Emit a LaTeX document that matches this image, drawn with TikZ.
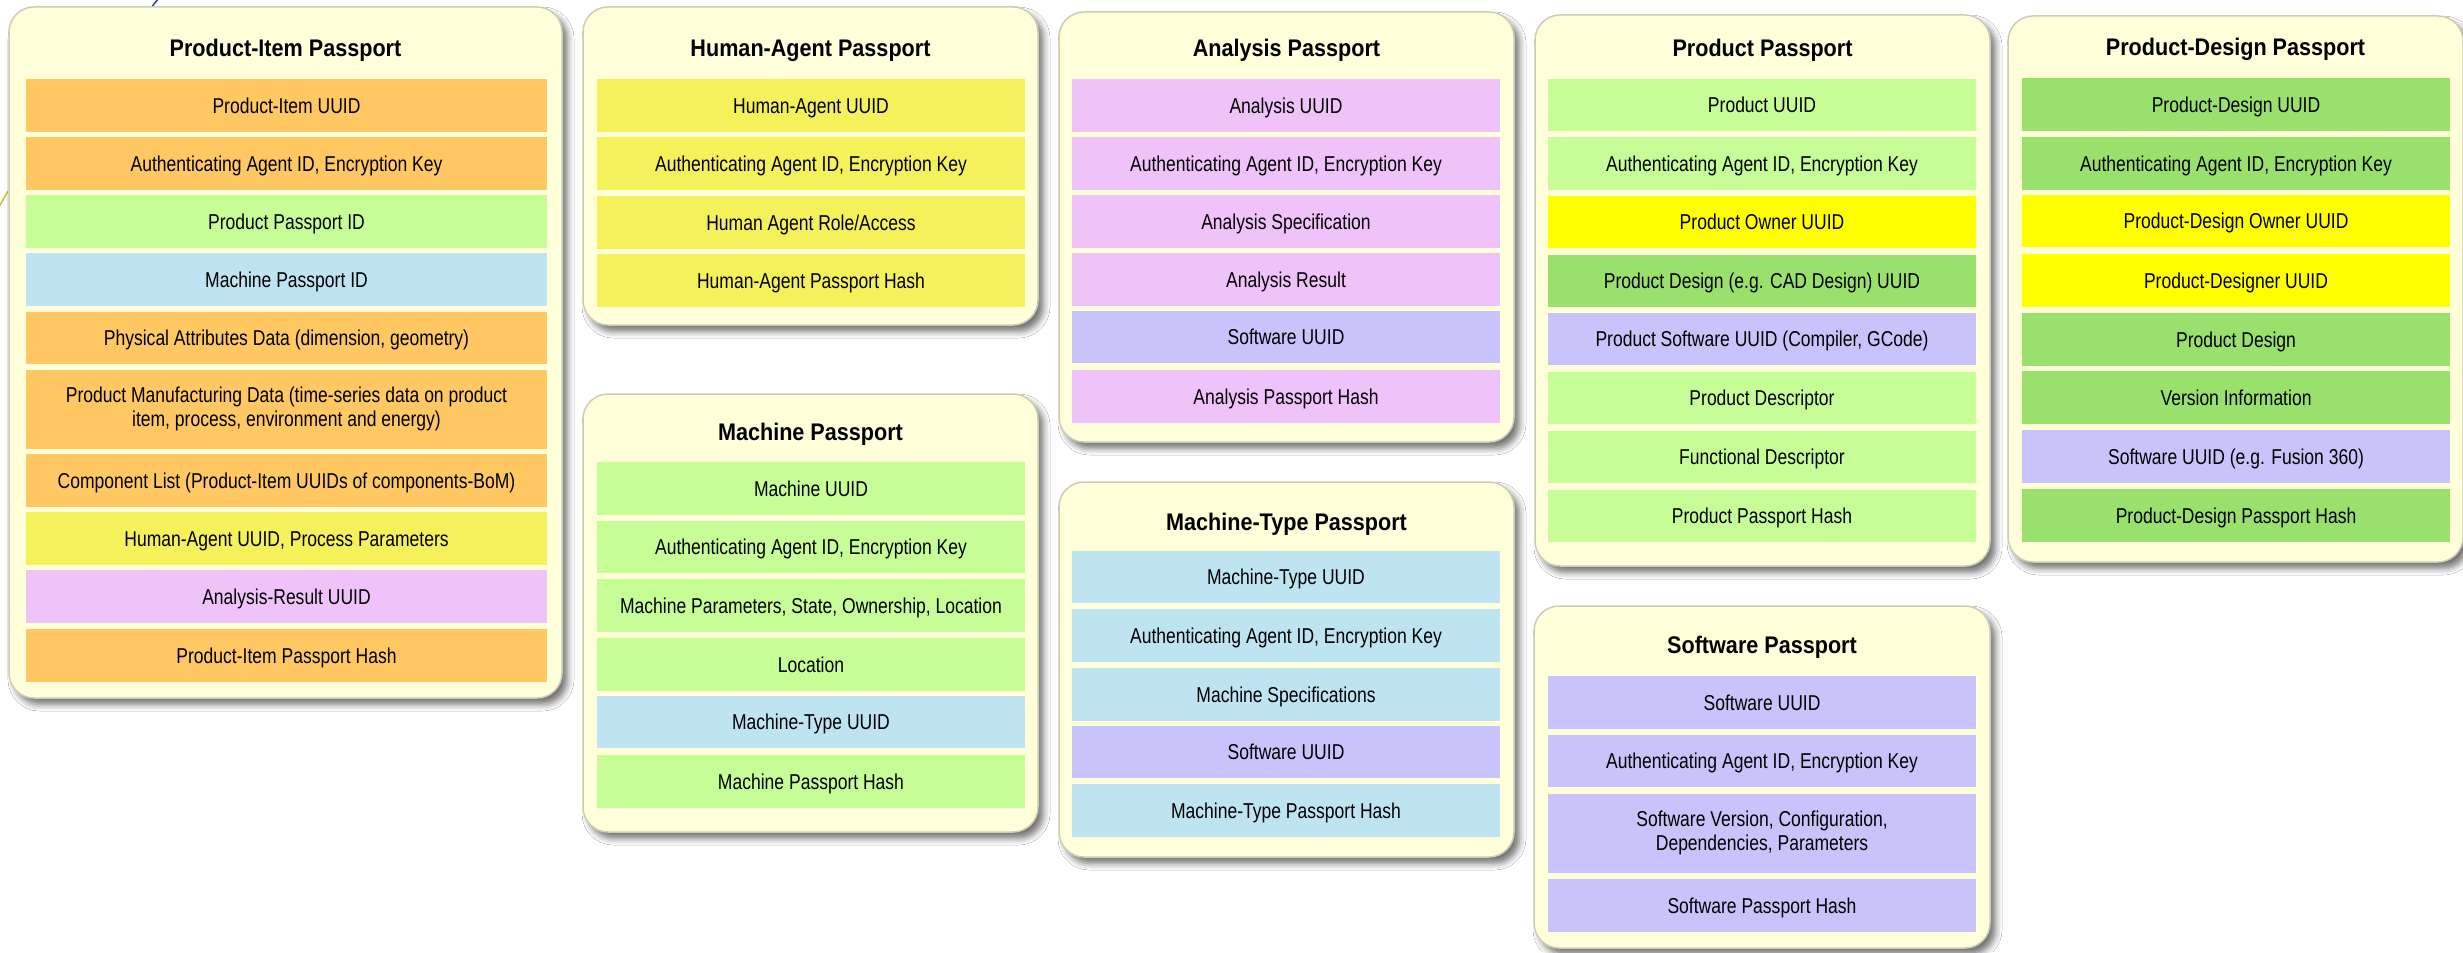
\documentclass[tikz,border=0pt]{standalone}
\usepackage{fontspec}
\setmainfont{Liberation Sans}
\usepackage{graphicx}
\usetikzlibrary{shadows.blur}
\definecolor{cardbg}{RGB}{255,255,217}
\definecolor{cardedge}{RGB}{205,205,180}
\definecolor{corange}{RGB}{255,200,98}
\definecolor{clgreen}{RGB}{199,253,150}
\definecolor{clblue}{RGB}{190,228,242}
\definecolor{chyellow}{RGB}{245,241,90}
\definecolor{cpurple}{RGB}{239,195,250}
\definecolor{clav}{RGB}{200,195,250}
\definecolor{cdgreen}{RGB}{153,224,109}
\definecolor{cbyellow}{RGB}{255,255,0}
\definecolor{strayblue}{RGB}{40,70,130}
\definecolor{strayolive}{RGB}{200,190,60}
\newcommand\nar[1]{\scalebox{0.815}[1]{#1}}
\newcommand\ttl[1]{\scalebox{0.9}[1]{#1}}
\newcommand\rowfont{\fontsize{8.6pt}{9.5pt}\selectfont}
\newcommand\ttlfont{\fontsize{9.6pt}{11pt}\selectfont\bfseries}
\tikzset{
  card/.style={rounded corners=10pt, fill=cardbg, draw=cardedge, line width=0.6pt,
    inner sep=0pt,
    blur shadow={shadow xshift=2.2pt, shadow yshift=-2.6pt, shadow blur radius=2.6pt, shadow opacity=55}},
  ttlbox/.style={inner sep=0pt, font=\ttlfont},
  rowbase/.style={inner sep=0pt, draw=none, font=\rowfont, align=center},
  rowbox/.style={rowbase, text height=6.2pt, text depth=0pt},
  stray/.style={line width=0.6pt}
}
\newcommand\pcard[7]{%
  \pgfmathsetmacro\cw{(#4-#2)*0.4}\pgfmathsetmacro\ch{(#5-#3)*0.4}%
  \node[card, minimum width=\cw pt, minimum height=\ch pt] (#1) at ({(#2+#4)/2},{(#3+#5)/2}) {};
  \node[ttlbox, anchor=base] (#1-t) at ({(#2+#4)/2},{#6+8.7}) {\ttl{#7}};}
\newcommand\prow[7]{%
  \pgfmathsetmacro\rw{(#4-#2)*0.4}\pgfmathsetmacro\rh{(#5-#3)*0.4}%
  \node[rowbox, fill=#6, minimum width=\rw pt, minimum height=\rh pt] (#1) at ({(#2+#4)/2},{(#3+#5)/2}) {\nar{#7}};}
\newcommand\prowtwo[8]{%
  \pgfmathsetmacro\rw{(#4-#2)*0.4}\pgfmathsetmacro\rh{(#5-#3)*0.4}%
  \node[rowbase, fill=#6, minimum width=\rw pt, minimum height=\rh pt] (#1) at ({(#2+#4)/2},{(#3+#5)/2}) {\nar{\begin{tabular}{@{}c@{}}#7\\#8\end{tabular}}};}
\begin{document}
\begin{tikzpicture}[x=0.4pt, y=-0.4pt]
\fill[white] (0,0) rectangle (2463,952);
\useasboundingbox (0,0) rectangle (2463,952);

% stray fragments
\coordinate (sa1) at (151,8); \coordinate (sa2) at (158,-1);
\coordinate (sb1) at (-1,207); \coordinate (sb2) at (8,191);
\draw[stray, strayblue] (sa1) -- (sa2);
\draw[stray, strayolive] (sb1) -- (sb2);

% Product-Item Passport
\pcard{pi}{9}{7}{562}{698}{48}{Product-Item Passport}
\prow{pi1}{26}{79}{547}{132}{corange}{Product-Item UUID}
\prow{pi2}{26}{137}{547}{190}{corange}{Authenticating Agent ID, Encryption Key}
\prow{pi3}{26}{195}{547}{248}{clgreen}{Product Passport ID}
\prow{pi4}{26}{253}{547}{306}{clblue}{Machine Passport ID}
\prow{pi5}{26}{312}{547}{364}{corange}{Physical Attributes Data (dimension, geometry)}
\prowtwo{pi6}{26}{370}{547}{449}{corange}{Product Manufacturing Data (time-series data on product}{item, process, environment and energy)}
\prow{pi7}{26}{454}{547}{507}{corange}{Component List (Product-Item UUIDs of components-BoM)}
\prow{pi8}{26}{512}{547}{565}{chyellow}{Human-Agent UUID, Process Parameters}
\prow{pi9}{26}{570}{547}{623}{cpurple}{Analysis-Result UUID}
\prow{pi10}{26}{629}{547}{682}{corange}{Product-Item Passport Hash}

% Human-Agent Passport
\pcard{ha}{583}{7}{1038}{325}{48}{Human-Agent Passport}
\prow{ha1}{597}{79}{1025}{132}{chyellow}{Human-Agent UUID}
\prow{ha2}{597}{137}{1025}{190}{chyellow}{Authenticating Agent ID, Encryption Key}
\prow{ha3}{597}{196}{1025}{249}{chyellow}{Human Agent Role/Access}
\prow{ha4}{597}{254}{1025}{307}{chyellow}{Human-Agent Passport Hash}

% Machine Passport
\pcard{ma}{583}{394}{1038}{832}{432}{Machine Passport}
\prow{ma1}{597}{462}{1025}{515}{clgreen}{Machine UUID}
\prow{ma2}{597}{521}{1025}{573}{clgreen}{Authenticating Agent ID, Encryption Key}
\prow{ma3}{597}{579}{1025}{632}{clgreen}{Machine Parameters, State, Ownership, Location}
\prow{ma4}{597}{638}{1025}{691}{clgreen}{Location}
\prow{ma5}{597}{696}{1025}{748}{clblue}{Machine-Type UUID}
\prow{ma6}{597}{755}{1025}{808}{clgreen}{Machine Passport Hash}

% Analysis Passport
\pcard{an}{1059}{12}{1514}{442}{48}{Analysis Passport}
\prow{an1}{1072}{79}{1500}{132}{cpurple}{Analysis UUID}
\prow{an2}{1072}{137}{1500}{190}{cpurple}{Authenticating Agent ID, Encryption Key}
\prow{an3}{1072}{195}{1500}{248}{cpurple}{Analysis Specification}
\prow{an4}{1072}{253}{1500}{306}{cpurple}{Analysis Result}
\prow{an5}{1072}{311}{1500}{363}{clav}{Software UUID}
\prow{an6}{1072}{370}{1500}{423}{cpurple}{Analysis Passport Hash}

% Machine-Type Passport
\pcard{mt}{1059}{482}{1514}{857}{522}{Machine-Type Passport}
\prow{mt1}{1072}{551}{1500}{603}{clblue}{Machine-Type UUID}
\prow{mt2}{1072}{609}{1500}{662}{clblue}{Authenticating Agent ID, Encryption Key}
\prow{mt3}{1072}{668}{1500}{721}{clblue}{Machine Specifications}
\prow{mt4}{1072}{726}{1500}{778}{clav}{Software UUID}
\prow{mt5}{1072}{784}{1500}{837}{clblue}{Machine-Type Passport Hash}

% Product Passport
\pcard{pp}{1535}{15}{1990}{566}{48}{Product Passport}
\prow{pp1}{1548}{79}{1976}{131}{clgreen}{Product UUID}
\prow{pp2}{1548}{137}{1976}{190}{clgreen}{Authenticating Agent ID, Encryption Key}
\prow{pp3}{1548}{196}{1976}{248}{cbyellow}{Product Owner UUID}
\prow{pp4}{1548}{255}{1976}{307}{cdgreen}{Product Design (e.g. CAD Design) UUID}
\prow{pp5}{1548}{313}{1976}{365}{clav}{Product Software UUID (Compiler, GCode)}
\prow{pp6}{1548}{372}{1976}{424}{clgreen}{Product Descriptor}
\prow{pp7}{1548}{431}{1976}{483}{clgreen}{Functional Descriptor}
\prow{pp8}{1548}{490}{1976}{542}{clgreen}{Product Passport Hash}

% Product-Design Passport
\pcard{pd}{2008}{16}{2463}{562}{47}{Product-Design Passport}
\prow{pd1}{2022}{78}{2450}{131}{cdgreen}{Product-Design UUID}
\prow{pd2}{2022}{137}{2450}{190}{cdgreen}{Authenticating Agent ID, Encryption Key}
\prow{pd3}{2022}{195}{2450}{247}{cbyellow}{Product-Design Owner UUID}
\prow{pd4}{2022}{254}{2450}{307}{cbyellow}{Product-Designer UUID}
\prow{pd5}{2022}{313}{2450}{366}{cdgreen}{Product Design}
\prow{pd6}{2022}{371}{2450}{424}{cdgreen}{Version Information}
\prow{pd7}{2022}{430}{2450}{483}{clav}{Software UUID (e.g. Fusion 360)}
\prow{pd8}{2022}{489}{2450}{542}{cdgreen}{Product-Design Passport Hash}

% Software Passport
\pcard{sw}{1534}{606}{1990}{948}{645}{Software Passport}
\prow{sw1}{1548}{676}{1976}{729}{clav}{Software UUID}
\prow{sw2}{1548}{735}{1976}{787}{clav}{Authenticating Agent ID, Encryption Key}
\prowtwo{sw3}{1548}{794}{1976}{873}{clav}{Software Version, Configuration,}{Dependencies, Parameters}
\prow{sw4}{1548}{879}{1976}{932}{clav}{Software Passport Hash}
\end{tikzpicture}
\end{document}
